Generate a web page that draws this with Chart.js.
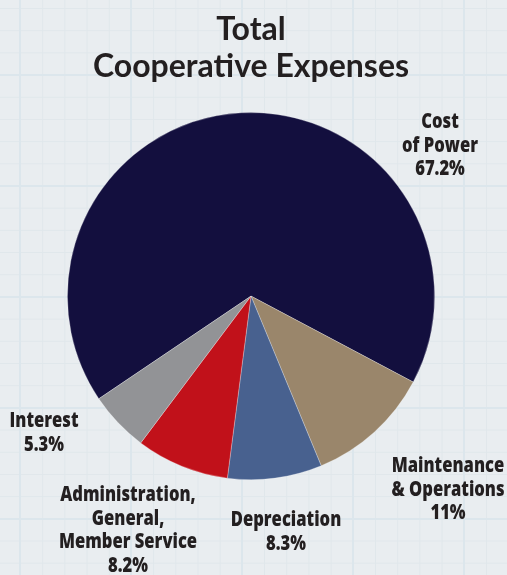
<!DOCTYPE html>
<html>
<head>
<meta charset="utf-8">
<script src="https://cdn.jsdelivr.net/npm/chart.js@4"></script>
<style>
    html, body {
        margin: 0;
        padding: 0;
    }
    body {
        width: 507px;
        height: 575px;
        overflow: hidden;
        background-color: #e9edf0;
        background-image:
            linear-gradient(to right, #dce6ec 2px, transparent 2px),
            linear-gradient(to bottom, #dce6ec 2px, transparent 2px),
            linear-gradient(to right, #e0e7eb 1px, transparent 1px),
            linear-gradient(to bottom, #e0e7eb 1px, transparent 1px);
        background-size: 111px 111px, 111px 111px, 22.2px 22.2px, 22.2px 22.2px;
        background-position: 19px 74px, 19px 74px, 20px 8px, 20px 8px;
    }
    canvas {
        display: block;
    }
</style>
</head>
<body>
<canvas id="expensesChart" width="507" height="575"></canvas>
<script>
const categories = [
    ["Cost", "of Power"],
    ["Maintenance", "& Operations"],
    ["Depreciation"],
    ["Administration,", "General,", "Member Service"],
    ["Interest"]
];
const values = [67.2, 11, 8.3, 8.2, 5.3];
const sliceColors = ["#130f3e", "#9a866b", "#48618f", "#c1111a", "#929396"];

// where each outside label sits: center x, first baseline y
const labelAnchors = [
    { x: 440, y: 128 },
    { x: 448, y: 472 },
    { x: 286, y: 526 },
    { x: 128, y: 501 },
    { x: 44, y: 427 }
];

// no condensed bold face installed, so squeeze a normal bold one
const LABEL_FONT = '800 21px "Open Sans", "Liberation Sans", sans-serif';
const LABEL_SQUEEZE = 0.79;
const TEXT_COLOR = "#231f20";

const outsideLabels = {
    id: "outsideLabels",
    afterDraw(chart) {
        const ctx = chart.ctx;
        chart.data.labels.forEach((lines, i) => {
            const anchor = labelAnchors[i];
            const all = lines.concat([values[i] + "%"]);
            all.forEach((line, j) => {
                ctx.save();
                ctx.font = LABEL_FONT;
                ctx.fillStyle = TEXT_COLOR;
                ctx.textAlign = "center";
                ctx.textBaseline = "alphabetic";
                ctx.translate(anchor.x, anchor.y + j * 23.5);
                ctx.scale(LABEL_SQUEEZE, 1);
                ctx.fillText(line, 0, 0);
                ctx.restore();
            });
        });
    }
};

const ctx = document.getElementById("expensesChart").getContext("2d");

new Chart(ctx, {
    type: "pie",
    data: {
        labels: categories,
        datasets: [{
            data: values,
            backgroundColor: sliceColors,
            borderColor: "rgba(255, 255, 255, 0.45)",
            borderWidth: 0.6
        }]
    },
    options: {
        responsive: false,
        animation: false,
        rotation: 236,
        layout: {
            padding: { left: 67, right: 72, top: 0, bottom: 95 }
        },
        plugins: {
            legend: { display: false },
            tooltip: { enabled: false },
            title: {
                display: true,
                text: ["Total", "Cooperative Expenses"],
                color: TEXT_COLOR,
                font: { family: "Lato", size: 32, weight: "bold", lineHeight: 1.16 },
                padding: { top: 11, bottom: 27 }
            }
        }
    },
    plugins: [outsideLabels]
});
</script>
</body>
</html>
